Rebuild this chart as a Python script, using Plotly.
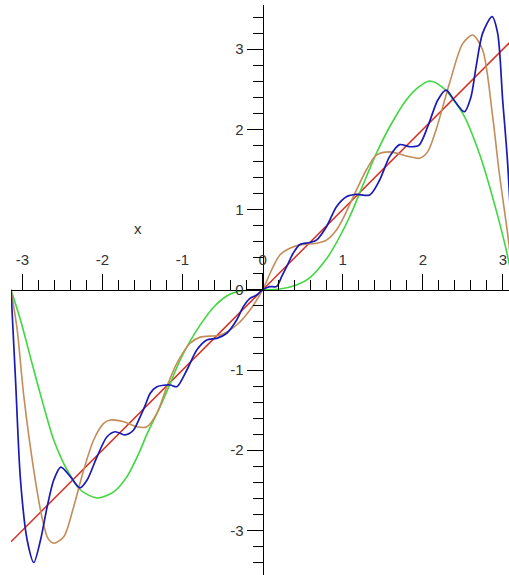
import plotly.graph_objects as go
import math

PI = math.pi

# ---- data ----
red_x = [-PI, PI]
red_y = [-PI, PI]

green_x = [-PI, -3.023, -2.857, -2.732, -2.608, -2.441, -2.275, -2.067, -1.86, -1.694,
           -1.528, -1.445, -1.279, -1.154, -1.03, -0.905, -0.781, -0.615, -0.448, -0.324,
           -0.15, 0.0, 0.215, 0.423, 0.589, 0.755, 0.859, 1.087, 1.295, 1.42,
           1.585, 1.793, 1.95, 2.083, 2.25, 2.498, 2.706, 2.914, 3.059, PI]
green_y = [0.0, -0.377, -1.0, -1.457, -1.873, -2.247, -2.496, -2.595, -2.52, -2.33,
           -2.0, -1.80, -1.457, -1.166, -0.875, -0.64, -0.44, -0.22, -0.077, -0.025,
           -0.003, 0.0, 0.01, 0.06, 0.15, 0.33, 0.48, 0.911, 1.41, 1.70,
           2.03, 2.367, 2.53, 2.603, 2.52, 2.2, 1.70, 1.0, 0.42, 0.0]

brown_x = [-PI, -3.064, -2.981, -2.857, -2.752, -2.68, -2.608, -2.483, -2.359, -2.234,
           -2.11, -1.985, -1.902, -1.736, -1.569, -1.45, -1.32, -1.196, -1.071, -0.905,
           -0.781, -0.53, -0.324, -0.158, 0.0, 0.112, 0.215, 0.34, 0.465, 0.672,
           0.797, 0.922, 1.0, 1.171, 1.295, 1.42, 1.585, 1.834, 1.959, 2.06,
           2.167, 2.333, 2.498, 2.623, 2.747, 2.872, 2.955, 3.059, PI]
brown_y = [0.0, -0.50, -1.333, -2.25, -2.85, -3.10, -3.16, -3.08, -2.705, -2.247,
           -1.873, -1.665, -1.624, -1.645, -1.707, -1.71, -1.54, -1.208, -0.917, -0.667,
           -0.59, -0.563, -0.439, -0.252, 0.0, 0.247, 0.434, 0.517, 0.56, 0.58,
           0.62, 0.746, 0.88, 1.244, 1.494, 1.68, 1.72, 1.66, 1.64, 1.72,
           2.0, 2.575, 3.07, 3.177, 2.99, 2.158, 1.45, 0.70, 0.0]

blue_x = [-PI, -3.085, -3.023, -2.94, -2.857, -2.773, -2.69, -2.608, -2.52, -2.40,
          -2.28, -2.192, -2.067, -1.943, -1.84, -1.72, -1.611, -1.528, -1.47, -1.403,
          -1.32, -1.154, -1.071, -0.946, -0.822, -0.697, -0.573, -0.448, -0.324, -0.241,
          -0.158, -0.075, 0.0, 0.09, 0.174, 0.237, 0.30, 0.381, 0.465, 0.589,
          0.672, 0.797, 0.922, 1.046, 1.171, 1.336, 1.461, 1.585, 1.71, 1.834,
          1.95, 2.067, 2.187, 2.291, 2.40, 2.519, 2.60, 2.665, 2.747, 2.864,
          2.934, 2.997, 3.059, PI]
blue_y = [0.0, -1.125, -2.372, -3.12, -3.40, -3.12, -2.705, -2.372, -2.21, -2.33,
          -2.47, -2.372, -2.08, -1.832, -1.77, -1.81, -1.748, -1.58, -1.45, -1.29,
          -1.208, -1.187, -1.208, -1.0, -0.75, -0.626, -0.605, -0.542, -0.377, -0.21,
          -0.106, -0.065, 0.0, 0.04, 0.04, 0.163, 0.288, 0.455, 0.565, 0.59,
          0.62, 0.787, 1.036, 1.161, 1.19, 1.182, 1.369, 1.66, 1.81, 1.784,
          1.80, 2.05, 2.367, 2.49, 2.35, 2.22, 2.40, 2.78, 3.2, 3.405,
          3.2, 2.366, 1.577, 0.0]

tick_vals = [-3, -2, -1, 0, 1, 2, 3]
tick_text = ["-3", "-2", "-1", "0", "1", "2", "3"]

X_RANGE = [-PI, 3.076]
Y_RANGE = [-3.556, 3.551]

fig = go.Figure()
fig.add_trace(go.Scatter(x=red_x, y=red_y, mode="lines",
                         line=dict(color="#d83020", width=1.5), hoverinfo="skip"))
fig.add_trace(go.Scatter(x=green_x, y=green_y, mode="lines",
                         line=dict(color="#3ed83e", width=1.6, shape="spline", smoothing=0.8),
                         hoverinfo="skip"))
fig.add_trace(go.Scatter(x=brown_x, y=brown_y, mode="lines",
                         line=dict(color="#c48c58", width=1.6, shape="spline", smoothing=0.8),
                         hoverinfo="skip"))
fig.add_trace(go.Scatter(x=blue_x, y=blue_y, mode="lines",
                         line=dict(color="#1a1ab4", width=1.7, shape="spline", smoothing=0.8),
                         hoverinfo="skip"))

xpos = (0 - Y_RANGE[0]) / (Y_RANGE[1] - Y_RANGE[0])
ypos = (0 - X_RANGE[0]) / (X_RANGE[1] - X_RANGE[0])

font = dict(family="Liberation Sans, Arial, sans-serif", size=15, color="#333333")

fig.update_layout(
    width=509, height=575,
    margin=dict(l=11, r=0, t=5, b=0, autoexpand=False),
    paper_bgcolor="white", plot_bgcolor="white",
    showlegend=False,
    font=font,
    xaxis=dict(range=X_RANGE, anchor="free", position=xpos, side="top", automargin=False,
               showgrid=False, zeroline=False, showline=True, linecolor="black", linewidth=1,
               ticks="outside", ticklen=16, tickwidth=1, tickcolor="black",
               tickvals=tick_vals, ticktext=tick_text, tickfont=font, ticklabelstandoff=3,
               minor=dict(dtick=0.2, tick0=0, ticks="outside", ticklen=10, tickwidth=1,
                          tickcolor="black", showgrid=False)),
    yaxis=dict(range=Y_RANGE, anchor="free", position=ypos, side="left", automargin=False,
               showgrid=False, zeroline=False, showline=True, linecolor="black", linewidth=1,
               ticks="outside", ticklen=16, tickwidth=1, tickcolor="black",
               tickvals=tick_vals, ticktext=tick_text, tickfont=font,
               minor=dict(dtick=0.2, tick0=0, ticks="outside", ticklen=10, tickwidth=1,
                          tickcolor="black", showgrid=False)),
    annotations=[dict(x=-1.55, y=0.76, xref="x", yref="y", text="x", showarrow=False,
                      font=font)],
)

fig.write_html(
    "out.html",
    config={"displayModeBar": False},
    post_script="document.body.style.margin='0';document.body.style.overflow='hidden';",
)
